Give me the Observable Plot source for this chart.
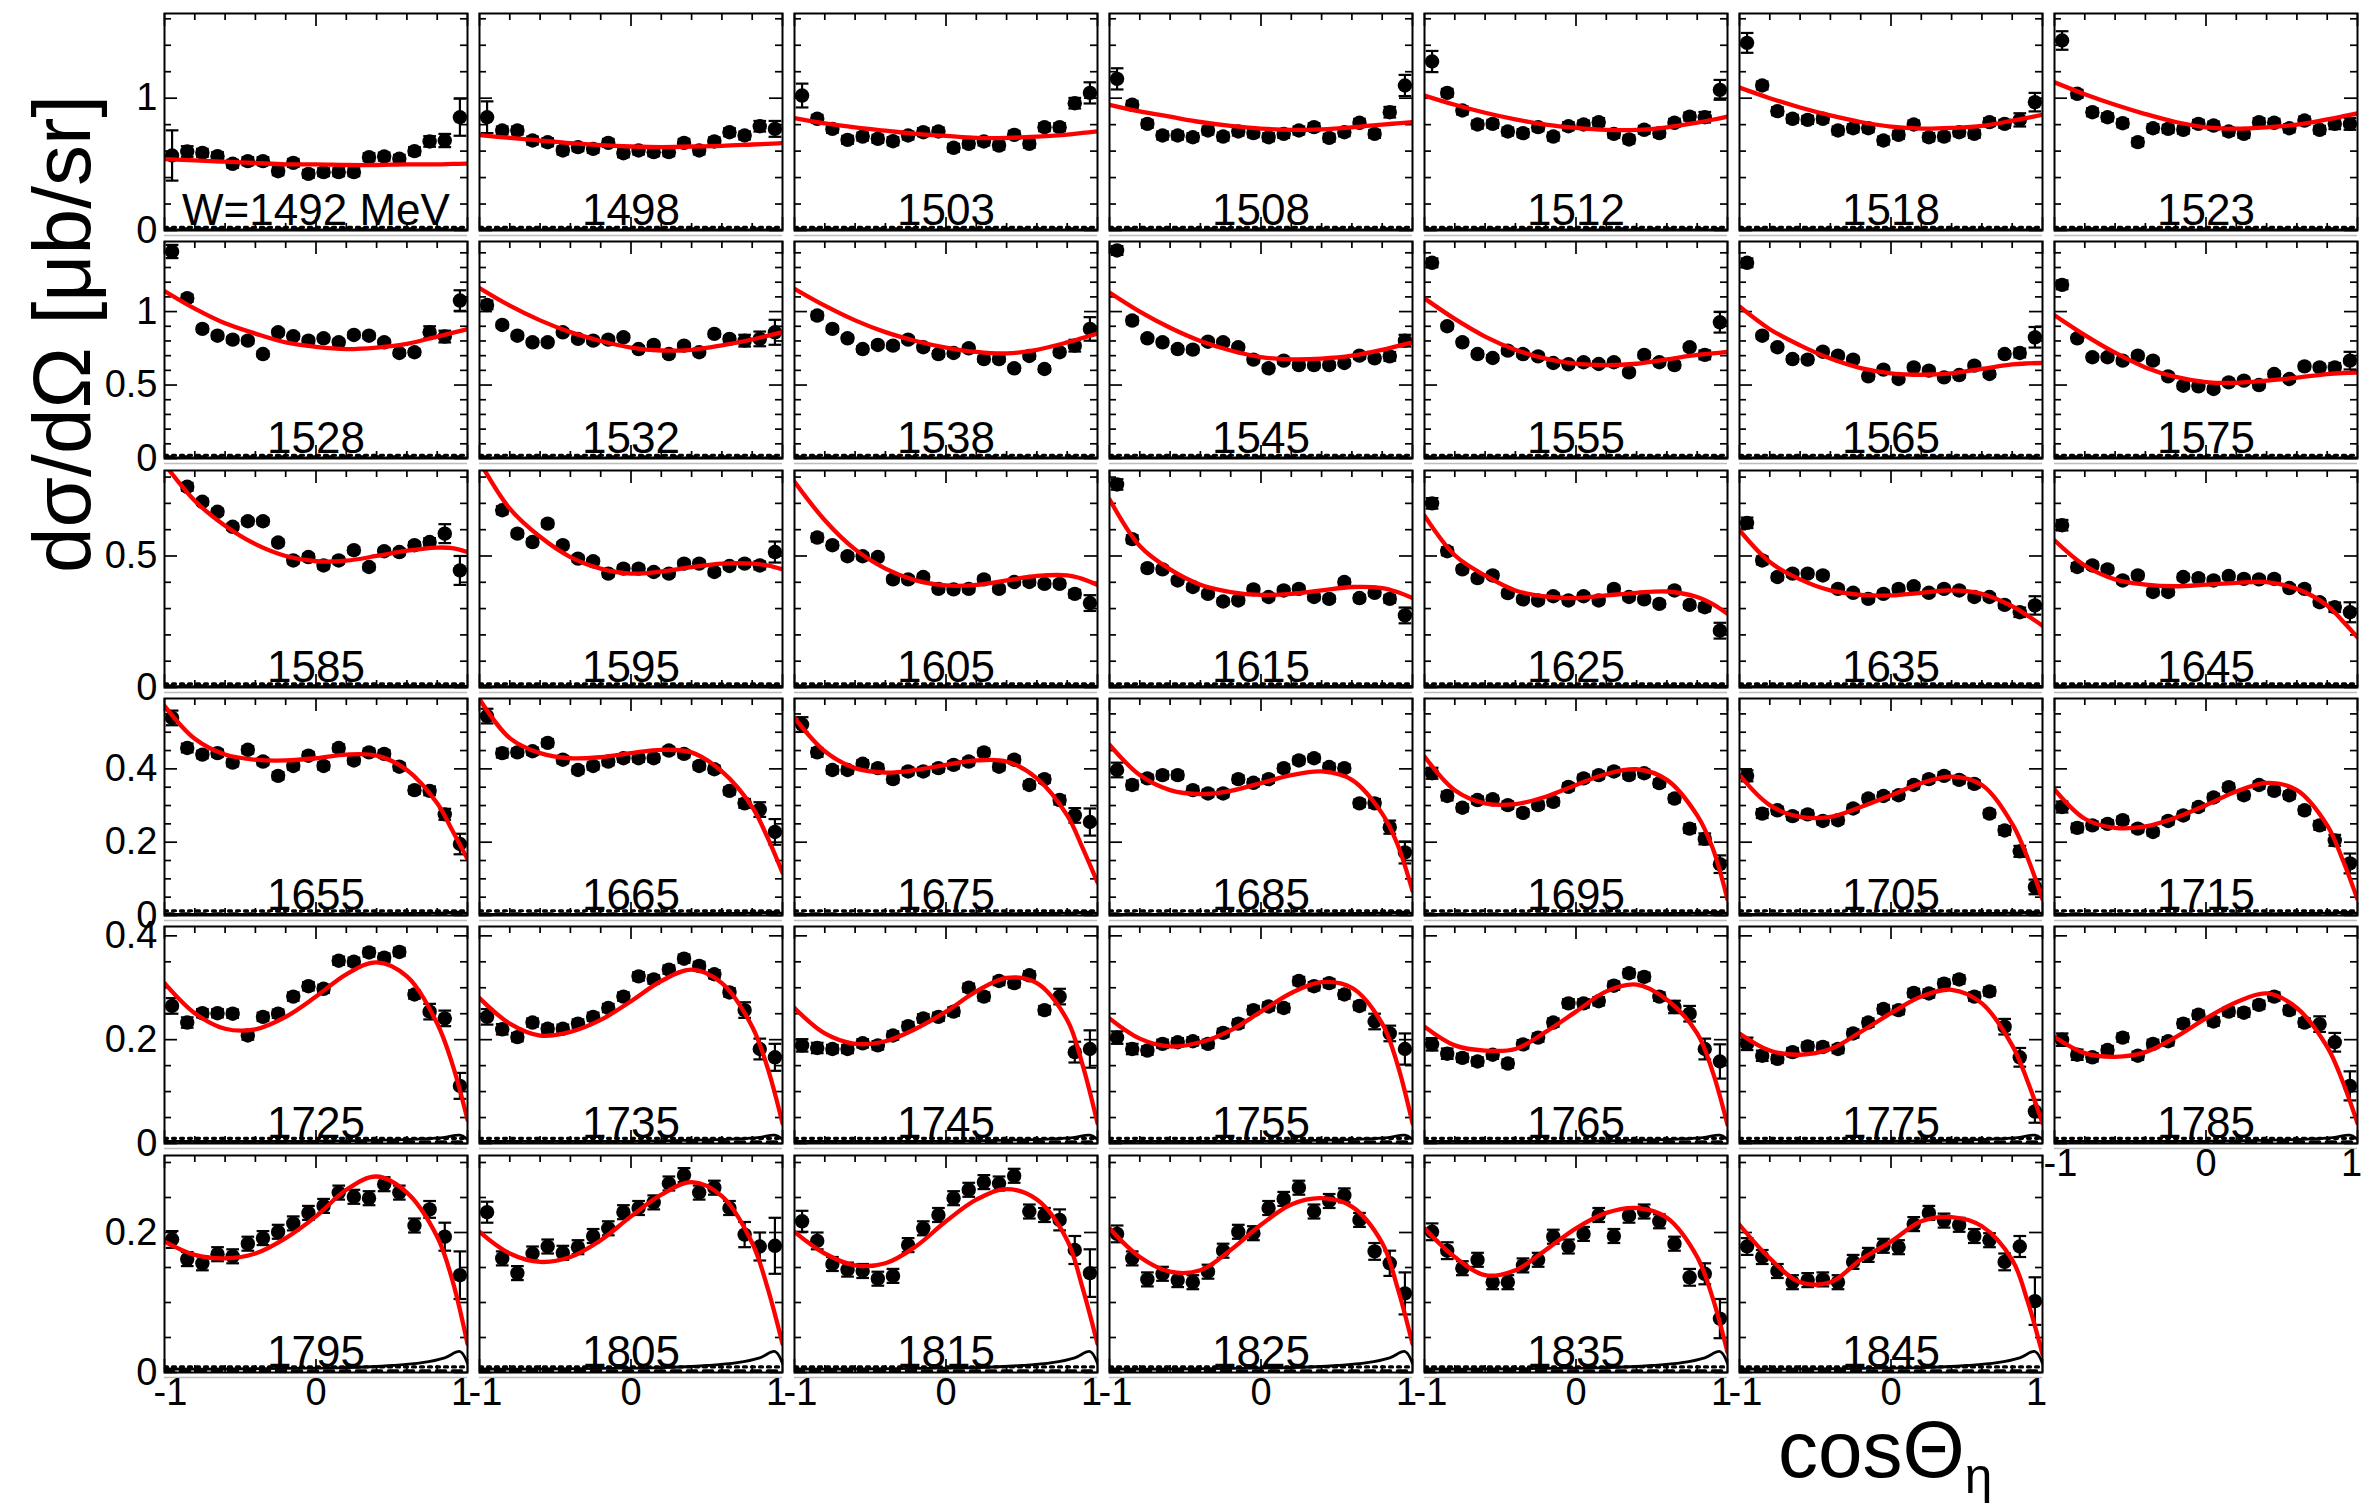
<!DOCTYPE html>
<html><head><meta charset="utf-8">
<script src="https://cdn.jsdelivr.net/npm/d3@7"></script>
<script src="https://cdn.jsdelivr.net/npm/@observablehq/plot@0.6"></script>
<style>
body{margin:0;background:#fff;}
#wrap{position:relative;width:2380px;height:1511px;background:#fff;font-family:"Liberation Sans",Arial,Helvetica,sans-serif;overflow:hidden;color:#000;}
.panel{position:absolute;}
.panel svg{overflow:visible;display:block;}
#ytitle{position:absolute;left:62px;top:334px;transform:translate(-50%,-50%) rotate(-90deg);font-size:82px;white-space:nowrap;line-height:1;}
#xtitle{position:absolute;left:1778px;top:1410px;font-size:80px;line-height:1;white-space:nowrap;}
#xtitle sub{font-size:0.62em;vertical-align:-0.32em;}
</style></head>
<body><div id="wrap">
<div id="ytitle">dσ/dΩ [μb/sr]</div>
<div id="xtitle">cosΘ<sub>η</sub></div>
</div>
<script>
// ---- data ----
const energies = [1492,1498,1503,1508,1512,1518,1523,
                  1528,1532,1538,1545,1555,1565,1575,
                  1585,1595,1605,1615,1625,1635,1645,
                  1655,1665,1675,1685,1695,1705,1715,
                  1725,1735,1745,1755,1765,1775,1785,
                  1795,1805,1815,1825,1835,1845];
const cosBins = [-0.95,-0.85,-0.75,-0.65,-0.55,-0.45,-0.35,-0.25,-0.15,-0.05,0.05,0.15,0.25,0.35,0.45,0.55,0.65,0.75,0.85,0.95];
const fitGrid = [-1,-0.8,-0.6,-0.4,-0.2,0,0.2,0.4,0.6,0.8,0.9,1];
const bgGrid = [-1,-0.6,-0.2,0.2,0.5,0.7,0.85,0.95,1];
const rowYMax = [1.64,1.477,0.825,0.592,0.418,0.31];
const rowMajorTicks = [[0,1],[0,0.5,1],[0,0.5],[0,0.2,0.4],[0,0.2,0.4],[0,0.2]];
const rowMinorTicks = [
  [0.2,0.4,0.6,0.8,1.2,1.4,1.6],
  [0.1,0.2,0.3,0.4,0.6,0.7,0.8,0.9,1.1,1.2,1.3,1.4],
  [0.1,0.2,0.3,0.4,0.6,0.7,0.8],
  [0.05,0.1,0.15,0.25,0.3,0.35,0.45,0.5,0.55],
  [0.05,0.1,0.15,0.25,0.3,0.35],
  [0.05,0.1,0.15,0.25,0.3]];
const xMajorTicks = [-1,0,1];
const xMinorTicks = [-0.8,-0.6,-0.4,-0.2,0.2,0.4,0.6,0.8];

const xsec = [
 [0.567,0.597,0.587,0.562,0.504, 0.524,0.524,0.448,0.511,0.428, 0.441,0.441,0.441,0.554,0.559, 0.542,0.600,0.673,0.680,0.856],
 [0.856,0.756,0.756,0.680,0.667, 0.605,0.630,0.617,0.662,0.584, 0.605,0.592,0.592,0.662,0.605, 0.673,0.743,0.718,0.788,0.768],
 [1.02,0.844,0.768,0.685,0.710, 0.693,0.675,0.718,0.743,0.748, 0.625,0.655,0.673,0.642,0.723, 0.655,0.781,0.781,0.962,1.040],
 [1.146,0.950,0.806,0.718,0.718, 0.705,0.756,0.710,0.748,0.736, 0.705,0.730,0.756,0.781,0.700, 0.743,0.814,0.730,0.894,1.096],
 [1.277,1.040,0.907,0.801,0.806, 0.748,0.736,0.781,0.710,0.788, 0.801,0.819,0.730,0.688,0.761, 0.736,0.814,0.861,0.856,1.063],
 [1.418,1.096,0.902,0.844,0.836, 0.844,0.756,0.773,0.773,0.680, 0.723,0.801,0.705,0.710,0.743, 0.730,0.819,0.806,0.836,0.970],
 [1.436,1.033,0.894,0.856,0.811, 0.668,0.773,0.768,0.761,0.806, 0.793,0.748,0.730,0.819,0.814, 0.773,0.831,0.761,0.806,0.806],
 [1.409,1.091,0.882,0.836,0.809, 0.802,0.711,0.859,0.832,0.802, 0.818,0.791,0.841,0.836,0.791, 0.718,0.723,0.860,0.830,1.075],
 [1.045,0.909,0.836,0.791,0.791, 0.859,0.814,0.802,0.809,0.825, 0.745,0.773,0.711,0.768,0.723, 0.848,0.814,0.802,0.814,0.859],
 [null,0.973,0.882,0.818,0.745, 0.773,0.768,0.809,0.757,0.711, 0.718,0.750,0.677,0.677,0.614, 0.698,0.609,0.723,0.768,0.882],
 [1.416,0.939,0.818,0.791,0.745, 0.741,0.795,0.791,0.757,0.673, 0.614,0.666,0.636,0.636,0.636, 0.650,0.700,0.682,0.695,0.802],
 [1.332,0.900,0.791,0.711,0.684, 0.734,0.711,0.695,0.650,0.641, 0.655,0.643,0.655,0.586,0.705, 0.655,0.636,0.757,0.705,0.927],
 [1.332,0.836,0.757,0.677,0.673, 0.727,0.700,0.673,0.559,0.605, 0.541,0.620,0.598,0.552,0.568, 0.632,0.575,0.711,0.718,0.825],
 [1.182,0.818,0.689,0.689,0.666, 0.700,0.666,0.559,0.495,0.491, 0.473,0.518,0.530,0.500,0.575, 0.541,0.627,0.620,0.620,0.666],
 [null,0.763,0.706,0.668,0.611, 0.632,0.632,0.551,0.483,0.496, 0.464,0.483,0.522,0.458,0.518, 0.515,0.541,0.553,0.585,0.445],
 [null,0.674,0.585,0.553,0.623, 0.541,0.490,0.480,0.433,0.452, 0.452,0.439,0.433,0.471,0.471, 0.439,0.462,0.471,0.464,0.515],
 [null,0.570,0.541,0.499,0.499, 0.496,0.411,0.411,0.420,0.375, 0.373,0.375,0.411,0.375,0.401, 0.401,0.394,0.394,0.356,0.321],
 [0.772,0.564,0.454,0.449,0.407, 0.382,0.356,0.327,0.331,0.373, 0.344,0.369,0.375,0.344,0.337, 0.401,0.340,0.360,0.337,0.274],
 [0.700,0.518,0.449,0.416,0.426, 0.359,0.335,0.331,0.347,0.331, 0.347,0.331,0.375,0.344,0.335, 0.318,0.369,0.314,0.305,0.216],
 [0.626,0.483,0.420,0.433,0.433, 0.426,0.375,0.360,0.337,0.356, 0.375,0.385,0.360,0.375,0.369, 0.344,0.344,0.314,0.286,0.312],
 [0.617,0.458,0.464,0.449,0.407, 0.426,0.363,0.363,0.420,0.416, 0.407,0.424,0.413,0.411,0.413, 0.378,0.375,0.324,0.305,0.286],
 [0.539,0.457,0.439,0.443,0.417, 0.452,0.420,0.381,0.408,0.436, 0.408,0.457,0.423,0.445,0.441, 0.406,0.342,0.340,0.276,0.195],
 [0.544,0.443,0.445,0.448,0.471, 0.425,0.397,0.408,0.420,0.429, 0.429,0.429,0.450,0.441,0.408, 0.399,0.340,0.306,0.289,0.228],
 [0.521,0.445,0.397,0.397,0.414, 0.402,0.372,0.393,0.393,0.402, 0.411,0.420,0.445,0.406,0.425, 0.356,0.372,0.315,0.273,0.255],
 [0.397,0.356,0.374,0.383,0.383, 0.342,0.333,0.333,0.372,0.362, 0.372,0.402,0.423,0.429,0.405, 0.402,0.306,0.306,0.241,0.172],
 [0.388,0.326,0.294,0.315,0.317, 0.301,0.280,0.301,0.310,0.351, 0.374,0.383,0.393,0.383,0.388, 0.361,0.319,0.237,0.209,0.140],
 [0.381,0.278,0.287,0.271,0.276, 0.258,0.260,0.292,0.319,0.326, 0.328,0.356,0.372,0.381,0.370, 0.359,0.278,0.232,0.175,0.078],
 [0.296,0.239,0.246,0.250,0.260, 0.237,0.228,0.258,0.273,0.296, 0.322,0.350,0.328,0.356,0.340, 0.328,0.287,0.246,0.205,0.142],
 [0.265,0.233,0.251,0.251,0.250, 0.208,0.244,0.250,0.283,0.303, 0.298,0.352,0.350,0.368,0.358, 0.369,0.287,0.254,0.241,0.111],
 [0.244,0.220,0.205,0.233,0.221, 0.221,0.231,0.244,0.261,0.283, 0.322,0.316,0.335,0.356,0.342, 0.326,0.291,0.257,0.182,0.166],
 [0.189,0.184,0.182,0.182,0.193, 0.189,0.208,0.226,0.241,0.244, 0.254,0.300,0.283,0.313,0.309, 0.324,0.257,0.283,0.176,0.182],
 [0.204,0.182,0.179,0.192,0.195, 0.197,0.192,0.213,0.231,0.257, 0.264,0.261,0.313,0.303,0.309, 0.287,0.265,0.235,0.212,0.182],
 [0.191,0.173,0.165,0.158,0.171, 0.154,0.191,0.204,0.233,0.270, 0.270,0.274,0.304,0.328,0.321, 0.283,0.263,0.250,0.182,0.158],
 [0.192,0.169,0.163,0.176,0.187, 0.186,0.182,0.212,0.233,0.259, 0.257,0.290,0.289,0.308,0.316, 0.283,0.293,0.225,0.166,0.062],
 [0.200,0.171,0.166,0.180,0.204, 0.169,0.192,0.197,0.231,0.248, 0.235,0.254,0.252,0.267,0.283, 0.257,0.233,0.230,0.195,0.111],
 [0.190,0.162,0.156,0.169,0.166, 0.184,0.192,0.201,0.213,0.228, 0.238,0.257,0.251,0.249,0.269, 0.257,0.210,0.233,0.194,0.139],
 [0.229,0.163,0.142,0.170,0.180, 0.171,0.179,0.195,0.206,0.229, 0.235,0.243,0.270,0.282,0.257, 0.264,0.235,0.197,0.180,0.181],
 [0.216,0.188,0.155,0.147,0.145, 0.134,0.138,0.182,0.206,0.225, 0.249,0.261,0.272,0.270,0.281, 0.230,0.225,0.218,0.175,0.142],
 [0.198,0.163,0.133,0.141,0.132, 0.129,0.144,0.174,0.201,0.199, 0.235,0.248,0.264,0.230,0.245, 0.253,0.218,0.173,0.156,0.113],
 [0.201,0.174,0.149,0.161,0.129, 0.129,0.153,0.161,0.194,0.180, 0.198,0.225,0.195,0.224,0.230, 0.216,0.184,0.136,0.141,0.077],
 [0.180,0.165,0.145,0.129,0.132, 0.133,0.129,0.158,0.168,0.181, 0.179,0.212,0.228,0.217,0.211, 0.195,0.189,0.158,0.180,0.102]
];

const xsecErr = [
 [.19,.04,.03,.03,.03, .03,.03,.03,.03,.03, .03,.03,.03,.03,.03, .03,.03,.04,.05,.14],
 [.12,.03,.03,.03,.03, .03,.03,.03,.03,.03, .03,.03,.03,.03,.03, .03,.03,.03,.04,.06],
 [.09,.03,.03,.03,.03, .03,.03,.03,.03,.03, .03,.03,.03,.03,.03, .03,.03,.03,.04,.08],
 [.08,.03,.03,.03,.03, .03,.03,.03,.03,.03, .03,.03,.03,.03,.03, .03,.03,.03,.04,.08],
 [.08,.03,.03,.03,.03, .03,.03,.03,.03,.03, .03,.03,.03,.03,.03, .03,.03,.03,.04,.075],
 [.075,.03,.03,.03,.03, .03,.03,.03,.03,.03, .03,.03,.03,.03,.03, .03,.03,.03,.05,.07],
 [.07,.03,.03,.03,.03, .03,.03,.03,.03,.03, .03,.03,.03,.03,.03, .03,.03,.03,.04,.045],
 [.045,.025,.02,.02,.02, .02,.02,.02,.02,.02, .02,.02,.02,.02,.02, .02,.02,.04,.04,.07],
 [.03,.02,.02,.02,.02, .02,.02,.02,.02,.02, .02,.02,.02,.02,.02, .02,.02,.04,.05,.085],
 [.03,.025,.02,.02,.02, .02,.02,.02,.02,.02, .02,.02,.02,.02,.02, .02,.02,.02,.04,.08],
 [.03,.025,.02,.02,.02, .02,.02,.02,.02,.02, .02,.02,.02,.02,.02, .02,.02,.02,.03,.04],
 [.03,.02,.02,.02,.02, .02,.02,.02,.02,.02, .02,.02,.02,.02,.02, .02,.02,.02,.03,.07],
 [.03,.02,.02,.02,.02, .02,.02,.02,.02,.02, .02,.02,.02,.02,.02, .02,.02,.02,.03,.07],
 [.03,.02,.02,.02,.02, .02,.02,.02,.02,.02, .02,.02,.02,.02,.02, .02,.02,.02,.03,.06],
 [.02,.015,.012,.012,.012, .012,.012,.012,.012,.012, .012,.012,.012,.012,.012, .012,.012,.015,.036,.055],
 [.02,.015,.012,.012,.012, .012,.012,.012,.012,.012, .012,.012,.012,.012,.012, .012,.012,.012,.015,.04],
 [.02,.015,.012,.012,.012, .012,.012,.012,.012,.012, .012,.012,.012,.012,.012, .012,.012,.012,.015,.03],
 [.02,.015,.012,.012,.012, .012,.012,.012,.012,.012, .012,.012,.012,.012,.012, .012,.012,.012,.015,.03],
 [.02,.015,.012,.012,.012, .012,.012,.012,.012,.012, .012,.012,.012,.012,.012, .012,.012,.012,.015,.03],
 [.02,.015,.012,.012,.012, .012,.012,.012,.012,.012, .012,.012,.012,.012,.012, .012,.012,.012,.018,.035],
 [.02,.015,.012,.012,.012, .012,.012,.012,.012,.012, .012,.012,.012,.012,.012, .012,.012,.012,.018,.038],
 [.02,.012,.01,.01,.01, .01,.01,.01,.01,.01, .01,.01,.01,.01,.01, .01,.01,.012,.015,.028],
 [.02,.012,.01,.01,.01, .01,.01,.01,.01,.01, .01,.01,.01,.01,.01, .01,.01,.012,.02,.035],
 [.02,.012,.01,.01,.01, .01,.01,.01,.01,.01, .01,.01,.01,.01,.01, .01,.01,.012,.02,.037],
 [.02,.012,.01,.01,.01, .01,.01,.01,.01,.01, .01,.01,.01,.01,.01, .01,.01,.012,.018,.03],
 [.015,.012,.01,.01,.01, .01,.01,.01,.01,.01, .01,.01,.01,.01,.01, .01,.01,.012,.015,.024],
 [.015,.012,.01,.01,.01, .01,.01,.01,.01,.01, .01,.01,.01,.01,.01, .01,.01,.012,.015,.02],
 [.015,.012,.01,.01,.01, .01,.01,.01,.01,.01, .01,.01,.01,.01,.01, .01,.01,.012,.015,.027],
 [.015,.01,.008,.008,.008, .008,.008,.008,.008,.008, .008,.008,.008,.008,.008, .008,.008,.015,.015,.025],
 [.015,.01,.008,.008,.008, .008,.008,.008,.008,.008, .008,.008,.008,.008,.008, .008,.008,.015,.02,.026],
 [.012,.01,.008,.008,.008, .008,.008,.008,.008,.008, .008,.008,.008,.008,.008, .008,.008,.015,.02,.036],
 [.012,.01,.008,.008,.008, .008,.008,.008,.008,.008, .008,.008,.008,.008,.008, .008,.008,.015,.015,.03],
 [.012,.01,.008,.008,.008, .008,.008,.008,.008,.008, .008,.008,.008,.008,.008, .008,.012,.015,.02,.033],
 [.012,.01,.008,.008,.008, .008,.008,.008,.008,.008, .008,.008,.008,.008,.008, .008,.008,.015,.018,.022],
 [.012,.01,.008,.008,.008, .008,.008,.008,.008,.008, .008,.008,.008,.008,.008, .008,.008,.015,.018,.028],
 [.012,.01,.01,.01,.01, .01,.01,.01,.01,.01, .01,.01,.01,.01,.01, .01,.01,.012,.02,.034],
 [.015,.01,.01,.01,.01, .01,.01,.01,.01,.01, .01,.01,.01,.01,.01, .01,.01,.018,.02,.04],
 [.015,.012,.01,.01,.01, .01,.01,.01,.01,.01, .01,.01,.01,.01,.01, .01,.01,.015,.02,.034],
 [.012,.01,.01,.01,.01, .01,.01,.01,.01,.01, .01,.01,.01,.01,.01, .01,.01,.012,.018,.03],
 [.012,.012,.01,.01,.01, .01,.01,.01,.01,.01, .01,.01,.01,.01,.01, .01,.01,.012,.015,.028],
 [.012,.01,.01,.01,.01, .01,.01,.01,.01,.01, .01,.01,.01,.01,.01, .01,.01,.012,.015,.034]
];

const fitVals = [
 [0.54,0.53,0.52,0.51,0.50,0.50,0.495,0.495,0.50,0.50,0.503,0.505],
 [0.72,0.70,0.68,0.66,0.645,0.635,0.63,0.635,0.64,0.65,0.655,0.66],
 [0.85,0.81,0.78,0.755,0.73,0.715,0.70,0.70,0.71,0.725,0.737,0.75],
 [0.95,0.90,0.86,0.82,0.79,0.77,0.76,0.765,0.78,0.80,0.81,0.82],
 [1.02,0.95,0.89,0.84,0.80,0.775,0.76,0.76,0.78,0.815,0.837,0.86],
 [1.08,1.00,0.93,0.87,0.82,0.785,0.77,0.775,0.79,0.83,0.852,0.875],
 [1.12,1.03,0.95,0.88,0.82,0.78,0.77,0.78,0.80,0.84,0.862,0.885],
 [1.14,1.02,0.92,0.85,0.79,0.76,0.745,0.755,0.78,0.83,0.855,0.88],
 [1.16,1.04,0.94,0.86,0.80,0.755,0.735,0.74,0.77,0.81,0.835,0.86],
 [1.155,1.04,0.94,0.86,0.80,0.755,0.725,0.715,0.74,0.79,0.82,0.85],
 [1.13,1.00,0.89,0.80,0.735,0.69,0.675,0.68,0.70,0.74,0.765,0.79],
 [1.09,0.95,0.83,0.74,0.68,0.645,0.635,0.645,0.675,0.705,0.715,0.725],
 [1.035,0.88,0.77,0.68,0.615,0.58,0.57,0.58,0.61,0.64,0.647,0.65],
 [0.975,0.84,0.72,0.62,0.555,0.52,0.515,0.53,0.55,0.575,0.582,0.585],
 [0.85,0.71,0.615,0.545,0.50,0.48,0.482,0.50,0.52,0.532,0.53,0.515],
 [0.86,0.68,0.573,0.496,0.452,0.433,0.441,0.458,0.471,0.471,0.464,0.449],
 [0.782,0.636,0.525,0.452,0.407,0.388,0.39,0.407,0.424,0.426,0.413,0.39],
 [0.716,0.538,0.449,0.391,0.363,0.352,0.356,0.369,0.382,0.378,0.363,0.34],
 [0.653,0.503,0.426,0.369,0.346,0.34,0.35,0.36,0.365,0.344,0.318,0.28],
 [0.598,0.477,0.411,0.369,0.352,0.35,0.36,0.369,0.356,0.309,0.274,0.235],
 [0.56,0.464,0.411,0.391,0.385,0.391,0.398,0.401,0.375,0.312,0.254,0.191],
 [0.572,0.482,0.439,0.425,0.423,0.429,0.439,0.436,0.397,0.306,0.232,0.154],
 [0.59,0.484,0.443,0.429,0.432,0.443,0.452,0.445,0.393,0.296,0.214,0.117],
 [0.539,0.448,0.402,0.39,0.397,0.411,0.423,0.42,0.374,0.273,0.186,0.09],
 [0.466,0.383,0.342,0.331,0.34,0.361,0.383,0.393,0.37,0.278,0.195,0.067],
 [0.434,0.342,0.306,0.304,0.324,0.356,0.386,0.399,0.37,0.273,0.186,0.044],
 [0.383,0.301,0.269,0.269,0.296,0.328,0.361,0.379,0.356,0.25,0.159,0.044],
 [0.344,0.264,0.239,0.243,0.267,0.301,0.338,0.362,0.342,0.246,0.154,0.044],
 [0.309,0.251,0.221,0.22,0.244,0.283,0.326,0.349,0.322,0.231,0.153,0.046],
 [0.28,0.231,0.208,0.215,0.238,0.274,0.313,0.335,0.309,0.225,0.147,0.039],
 [0.261,0.212,0.192,0.197,0.221,0.254,0.293,0.319,0.309,0.238,0.153,0.039],
 [0.241,0.202,0.187,0.195,0.218,0.254,0.29,0.311,0.3,0.231,0.153,0.039],
 [0.225,0.189,0.179,0.182,0.215,0.254,0.293,0.306,0.277,0.212,0.14,0.036],
 [0.212,0.179,0.171,0.182,0.215,0.251,0.283,0.296,0.27,0.189,0.121,0.039],
 [0.205,0.174,0.167,0.176,0.205,0.241,0.272,0.289,0.261,0.186,0.121,0.039],
 [0.187,0.168,0.163,0.17,0.192,0.223,0.261,0.28,0.257,0.194,0.132,0.041],
 [0.201,0.17,0.158,0.165,0.189,0.223,0.254,0.272,0.252,0.185,0.122,0.041],
 [0.201,0.17,0.153,0.156,0.18,0.216,0.247,0.262,0.247,0.189,0.122,0.041],
 [0.206,0.165,0.144,0.146,0.175,0.211,0.24,0.249,0.237,0.185,0.122,0.041],
 [0.206,0.165,0.139,0.146,0.175,0.206,0.228,0.235,0.221,0.165,0.108,0.029],
 [0.211,0.163,0.129,0.129,0.161,0.187,0.216,0.222,0.209,0.161,0.103,0.026]
];

// small background contributions (black curves near zero), one per row
const bgSolid = [
 [0.004,0.004,0.004,0.004,0.004,0.004,0.004,0.004,0.004],
 [0.004,0.004,0.004,0.004,0.004,0.004,0.004,0.004,0.004],
 [0.003,0.003,0.003,0.003,0.004,0.004,0.005,0.006,0.004],
 [0.003,0.003,0.003,0.004,0.005,0.006,0.007,0.009,0.005],
 [0.004,0.004,0.004,0.005,0.007,0.009,0.012,0.016,0.008],
 [0.005,0.005,0.006,0.007,0.010,0.014,0.021,0.030,0.013]];
const bgDotted = [
 [0.024,0.024,0.024,0.024,0.024,0.024,0.024,0.024,0.024],
 [0.022,0.022,0.022,0.022,0.022,0.022,0.022,0.022,0.022],
 [0.014,0.014,0.014,0.014,0.014,0.014,0.014,0.014,0.014],
 [0.013,0.013,0.013,0.013,0.013,0.013,0.013,0.013,0.013],
 [0.010,0.010,0.010,0.010,0.010,0.010,0.010,0.010,0.010],
 [0.008,0.008,0.008,0.008,0.008,0.008,0.008,0.008,0.008]];
const bgDashed = [
 [0.012,0.012,0.012,0.012,0.012,0.012,0.012,0.012,0.012],
 [0.011,0.011,0.011,0.011,0.011,0.011,0.011,0.011,0.011],
 [0.006,0.006,0.006,0.006,0.006,0.006,0.006,0.006,0.006],
 [0.004,0.004,0.004,0.004,0.004,0.004,0.004,0.004,0.004],
 [0.003,0.003,0.003,0.003,0.003,0.003,0.003,0.003,0.003],
 [0.002,0.002,0.002,0.002,0.002,0.002,0.002,0.002,0.002]];

// ---- layout ----
const PW = 303, PH = 217, COLPITCH = 315, ROWPITCH = 228.3, LEFT0 = 164, TOP0 = 13;
const TMAJ = 13, TMIN = 7;
const FONT = '"Liberation Sans", Arial, Helvetica, sans-serif';
const TICKFONT = '"Liberation Sans Narrow", "Arial Narrow", "Liberation Sans", Arial, sans-serif';
const wrap = document.getElementById("wrap");

function panel(i) {
  const r = Math.floor(i / 7), c = i % 7;
  const pts = cosBins.map((x, k) => ({x, y: xsec[i][k], e: xsecErr[i][k]})).filter(d => d.y != null);
  const fit = fitGrid.map((x, k) => ({x, y: fitVals[i][k]}));
  const bgS = bgGrid.map((x, k) => ({x, y: bgSolid[r][k]}));
  const bgDo = bgGrid.map((x, k) => ({x, y: bgDotted[r][k]}));
  const bgDa = bgGrid.map((x, k) => ({x, y: bgDashed[r][k]}));
  const label = i === 0 ? "W=1492 MeV" : String(energies[i]);
  const tk = {stroke: "black", strokeWidth: 1.7};
  const marks = [
    Plot.ruleY([0], {dy: 5, stroke: "#bdbdbd", strokeWidth: 1.5}),
    Plot.line(bgDa, {x: "x", y: "y", stroke: "black", strokeWidth: 3.5, strokeDasharray: "9,7", clip: true}),
    Plot.line(bgDo, {x: "x", y: "y", stroke: "black", strokeWidth: 3.2, strokeDasharray: "3,5", clip: true}),
    Plot.line(bgS, {x: "x", y: "y", stroke: "black", strokeWidth: 2.8, curve: "catmull-rom", clip: true}),
    // inward ticks, all four sides
    Plot.tickX(xMinorTicks, {x: d => d, insetBottom: PH - TMIN, ...tk}),
    Plot.tickX(xMinorTicks, {x: d => d, insetTop: PH - TMIN, ...tk}),
    Plot.tickX(xMajorTicks, {x: d => d, insetBottom: PH - TMAJ, ...tk}),
    Plot.tickX(xMajorTicks, {x: d => d, insetTop: PH - TMAJ, ...tk}),
    Plot.tickY(rowMinorTicks[r], {y: d => d, insetRight: PW - TMIN, ...tk}),
    Plot.tickY(rowMinorTicks[r], {y: d => d, insetLeft: PW - TMIN, ...tk}),
    Plot.tickY(rowMajorTicks[r], {y: d => d, insetRight: PW - TMAJ, ...tk}),
    Plot.tickY(rowMajorTicks[r], {y: d => d, insetLeft: PW - TMAJ, ...tk}),
    Plot.text([label], {text: d => d, frameAnchor: "bottom", lineAnchor: "bottom", dy: -6, fontSize: 44, fill: "black"}),
    // data
    Plot.ruleX(pts, {x: "x", y1: d => d.y - d.e, y2: d => d.y + d.e, stroke: "black", strokeWidth: 2.2, clip: true}),
    Plot.link(pts, {x1: d => d.x - 0.042, x2: d => d.x + 0.042, y1: d => d.y + d.e, y2: d => d.y + d.e, stroke: "black", strokeWidth: 2.2, clip: true}),
    Plot.link(pts, {x1: d => d.x - 0.042, x2: d => d.x + 0.042, y1: d => d.y - d.e, y2: d => d.y - d.e, stroke: "black", strokeWidth: 2.2, clip: true}),
    Plot.dot(pts, {x: "x", y: "y", r: 7.2, fill: "black", stroke: "none"}),
    Plot.line(fit, {x: "x", y: "y", stroke: "#ff0000", strokeWidth: 4.3, curve: "catmull-rom", clip: true}),
    Plot.frame({stroke: "black", strokeWidth: 2})
  ];
  if (c === 0) {
    marks.push(Plot.axisY(rowMajorTicks[r], {tickSize: 0, tickPadding: 7, fontSize: 38, fontFamily: TICKFONT, tickFormat: d => String(d), label: null}));
  }
  if (r === 5 || i === 34) {
    const ax = {tickSize: 0, tickPadding: 6, fontSize: 38, fontFamily: TICKFONT, tickFormat: d => String(d), label: null};
    marks.push(Plot.axisX([xMajorTicks[0]], {...ax, dx: 6}));
    marks.push(Plot.axisX([xMajorTicks[1]], ax));
    marks.push(Plot.axisX([xMajorTicks[2]], {...ax, dx: -6}));
  }
  const svg = Plot.plot({
    width: PW, height: PH, margin: 0,
    x: {domain: [-1, 1], axis: null},
    y: {domain: [0, rowYMax[r]], axis: null},
    style: {overflow: "visible", background: "none", fontFamily: FONT, color: "black"},
    marks
  });
  const div = document.createElement("div");
  div.className = "panel";
  div.style.left = (LEFT0 + c * COLPITCH) + "px";
  div.style.top = Math.round(TOP0 + r * ROWPITCH) + "px";
  div.style.width = PW + "px";
  div.style.height = PH + "px";
  div.appendChild(svg);
  wrap.appendChild(div);
}
for (let i = 0; i < energies.length; i++) panel(i);
</script>
</body></html>
